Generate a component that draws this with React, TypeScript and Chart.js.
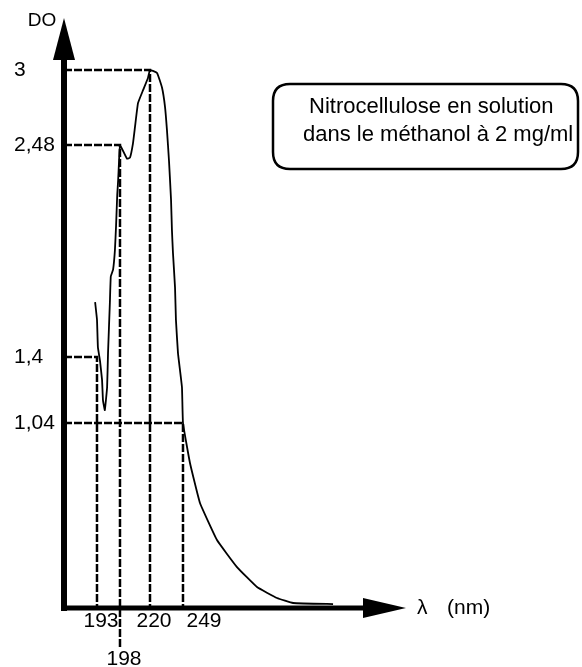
import React, { useEffect, useRef } from 'react';
import { Chart, LinearScale, registerables } from 'chart.js';

Chart.register(...registerables);

// ---- data ----
const wavelengths = [
  192.6, 193.0, 193.2, 193.65, 194.1, 194.3, 194.7, 195.2, 195.4, 195.8, 196.0, 196.5, 196.9,
  197.15, 197.4, 197.6, 197.8, 198.0, 203.1, 205.3, 207.5, 209.0, 211.2, 214.9, 218.5, 220.0,
  226.2, 230.5, 233.2, 234.9, 236.7, 238.5, 239.3, 240.2, 242.0, 242.8, 244.6, 248.1, 249.0,
  254.8, 263.1, 277.2, 293.8, 310.4, 327.0, 340.3, 373.5,
];
const absorbance = [
  1.68, 1.59, 1.45, 1.38, 1.275, 1.165, 1.11, 1.235, 1.42, 1.675, 1.81, 1.845, 1.945,
  2.07, 2.225, 2.3, 2.4, 2.48, 2.41, 2.415, 2.49, 2.605, 2.77, 2.86, 2.945, 3.0,
  2.98, 2.88, 2.745, 2.585, 2.4, 2.2, 2.045, 1.93, 1.755, 1.59, 1.42, 1.235, 1.04,
  0.815, 0.59, 0.382, 0.23, 0.118, 0.056, 0.028, 0.022,
];

const markWavelengths = [193, 198, 220, 249];
const markAbsorbance = [1.4, 2.48, 3, 1.04];
const markLabelRow = [0, 1, 0, 0];

const xTickValues = [193, 198, 220, 249];
const xTickLabels = ['193', '198', '220', '249'];
const yTickValues = [1.04, 1.4, 2.48, 3];
const yTickLabels = ['1,04', '1,4', '2,48', '3'];

const boxLines = ['Nitrocellulose en solution', 'dans le méthanol à 2 mg/ml'];

const X_MIN = 186;
const X_MAX = 400;
const Y_MIN = 0;
const Y_MAX = 3.09;

// hand-drawn (non-uniform) axes: value -> fraction of axis length
const scaleStops: Record<string, { v: number[]; d: number[] }> = {
  x: { v: [186, 193, 198, 220, 249, 400], d: [0, 0.1096, 0.186, 0.2857, 0.3953, 1] },
  y: { v: [0, 1.04, 1.4, 2.48, 3, 3.09], d: [0, 0.3358, 0.4555, 0.8403, 0.9764, 1] },
};

function interp(xs: number[], ys: number[], v: number): number {
  const n = xs.length;
  let i = 0;
  if (v <= xs[0]) i = 0;
  else if (v >= xs[n - 1]) i = n - 2;
  else {
    while (i < n - 2 && v > xs[i + 1]) i++;
  }
  const t = (v - xs[i]) / (xs[i + 1] - xs[i]);
  return ys[i] + t * (ys[i + 1] - ys[i]);
}

class BrokenScale extends LinearScale {
  static id = 'broken';
  static defaults = LinearScale.defaults;
  getPixelForValue(value: any) {
    if (value === null || value === undefined || isNaN(value)) return NaN;
    const s = scaleStops[(this as any).id];
    return this.getPixelForDecimal(interp(s.v, s.d, value));
  }
  getValueForPixel(pixel: number) {
    const s = scaleStops[(this as any).id];
    return interp(s.d, s.v, this.getDecimalForPixel(pixel));
  }
}
Chart.register(BrokenScale as any);

const FONT = "'Liberation Sans', Arial, Helvetica, sans-serif";

const decorPlugin = {
  id: 'decor',
  afterDraw(chart: any) {
    const ctx = chart.ctx as CanvasRenderingContext2D;
    const { left, right, top, bottom } = chart.chartArea;
    const xs = chart.scales.x;
    ctx.save();
    ctx.fillStyle = '#000';
    ctx.strokeStyle = '#000';
    // y axis
    ctx.lineWidth = 6;
    ctx.beginPath();
    ctx.moveTo(left, bottom + 3);
    ctx.lineTo(left, top + 2);
    ctx.stroke();
    ctx.beginPath();
    ctx.moveTo(left, top - 39);
    ctx.lineTo(left - 11, top + 3);
    ctx.lineTo(left + 11, top + 3);
    ctx.closePath();
    ctx.fill();
    // x axis
    ctx.lineWidth = 5;
    ctx.beginPath();
    ctx.moveTo(left - 3, bottom);
    ctx.lineTo(right, bottom);
    ctx.stroke();
    ctx.beginPath();
    ctx.moveTo(right + 41, bottom);
    ctx.lineTo(right - 2, bottom - 10);
    ctx.lineTo(right - 2, bottom + 10);
    ctx.closePath();
    ctx.fill();

    // x tick labels: centred a little right of the tick, pushed right to avoid overlap in a row
    ctx.font = `21px ${FONT}`;
    ctx.textBaseline = 'middle';
    ctx.textAlign = 'left';
    const rowEnd: Record<number, number> = {};
    xTickValues.forEach((v, i) => {
      const row = markLabelRow[markWavelengths.indexOf(v)] || 0;
      const w = ctx.measureText(xTickLabels[i]).width;
      let start = xs.getPixelForValue(v) + 4 - w / 2;
      if (rowEnd[row] !== undefined && start < rowEnd[row] + 15) start = rowEnd[row] + 15;
      ctx.fillText(xTickLabels[i], start, bottom + 13 + row * 38);
      rowEnd[row] = start + w;
    });

    // axis names
    ctx.textAlign = 'center';
    ctx.font = `19px ${FONT}`;
    ctx.fillText('DO', left - 22, top - 36);
    ctx.textAlign = 'left';
    ctx.font = `21px ${FONT}`;
    ctx.fillText('λ', right + 52, bottom);
    ctx.fillText('(nm)', right + 82, bottom);
    // annotation box
    const bx = 273, by = 84, bw = 305, bh = 85, r = 17;
    ctx.lineWidth = 2.5;
    ctx.beginPath();
    ctx.moveTo(bx + r, by);
    ctx.lineTo(bx + bw - r, by);
    ctx.quadraticCurveTo(bx + bw, by, bx + bw, by + r);
    ctx.lineTo(bx + bw, by + bh - r);
    ctx.quadraticCurveTo(bx + bw, by + bh, bx + bw - r, by + bh);
    ctx.lineTo(bx + r, by + bh);
    ctx.quadraticCurveTo(bx, by + bh, bx, by + bh - r);
    ctx.lineTo(bx, by + r);
    ctx.quadraticCurveTo(bx, by, bx + r, by);
    ctx.closePath();
    ctx.stroke();
    ctx.font = `22px ${FONT}`;
    ctx.textBaseline = 'alphabetic';
    ctx.fillText(boxLines[0], 309, 113);
    ctx.fillText(boxLines[1], 303, 141);
    ctx.restore();
  },
};

export default function App() {
  const ref = useRef<HTMLCanvasElement | null>(null);

  useEffect(() => {
    if (!ref.current) return;
    const curve = wavelengths.map((x, i) => ({ x, y: absorbance[i] }));
    const guides = markWavelengths.map((wl, i) => ({
      type: 'scatter' as const,
      data: [
        { x: X_MIN, y: markAbsorbance[i] },
        { x: wl, y: markAbsorbance[i] },
        { x: wl, y: -0.22 * markLabelRow[i] },
      ],
      showLine: true,
      borderColor: '#000',
      borderWidth: 2.5,
      borderDash: [8, 2],
      pointRadius: 0,
      tension: 0,
      clip: false as any,
    }));

    const chart = new Chart(ref.current, {
      type: 'scatter',
      data: {
        datasets: [
          {
            data: curve,
            showLine: true,
            borderColor: '#000',
            borderWidth: 1.8,
            pointRadius: 0,
            tension: 0.1,
          },
          ...guides,
        ] as any,
      },
      plugins: [decorPlugin],
      options: {
        animation: false,
        responsive: true,
        maintainAspectRatio: false,
        events: [],
        layout: { padding: { left: 14, top: 57, right: 217, bottom: 0 } },
        plugins: { legend: { display: false }, tooltip: { enabled: false } },
        scales: {
          x: {
            type: 'broken' as any,
            min: X_MIN,
            max: X_MAX,
            grid: { display: false, drawTicks: false },
            border: { display: false },
            afterBuildTicks: (s: any) => {
              s.ticks = xTickValues.map((v) => ({ value: v }));
            },
            afterFit: (s: any) => {
              s.height = 59;
            },
            ticks: { display: false, autoSkip: false, maxRotation: 0, minRotation: 0 },
          } as any,
          y: {
            type: 'broken' as any,
            min: Y_MIN,
            max: Y_MAX,
            grid: { display: false, drawTicks: false },
            border: { display: false },
            afterBuildTicks: (s: any) => {
              s.ticks = yTickValues.map((v) => ({ value: v }));
            },
            afterFit: (s: any) => {
              s.width = 50;
            },
            ticks: {
              autoSkip: false,
              crossAlign: 'far',
              color: '#000',
              font: { family: FONT, size: 21 },
              callback: (v: any) => {
                const i = yTickValues.indexOf(Number(v));
                return i < 0 ? '' : yTickLabels[i];
              },
            },
          } as any,
        },
      },
    });
    return () => chart.destroy();
  }, []);

  return (
    <div style={{ position: 'fixed', left: 0, top: 0, width: 582, height: 667, background: '#fff' }}>
      <canvas ref={ref} />
    </div>
  );
}
